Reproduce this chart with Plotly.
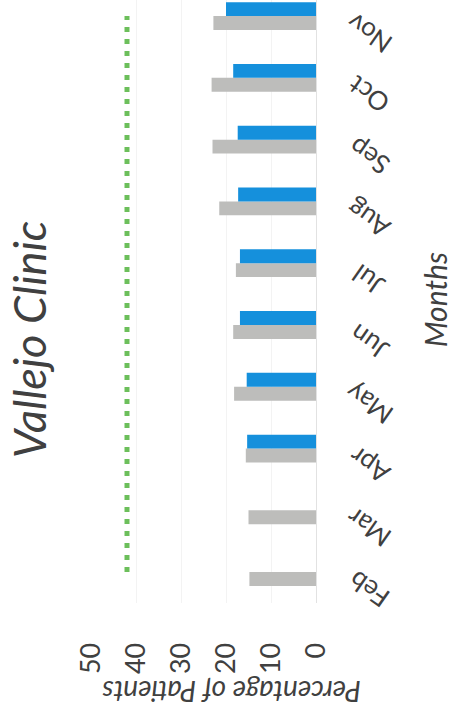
import plotly.graph_objects as go

# Monthly patient percentages, Vallejo Clinic
months = ["Feb", "Mar", "Apr", "May", "Jun", "Jul", "Aug", "Sep", "Oct", "Nov"]
prior_pct = [14.8, 15.0, 15.6, 18.2, 18.4, 17.8, 21.5, 23.0, 23.2, 22.8]
current_pct = [None, None, 15.3, 15.4, 16.9, 16.9, 17.3, 17.4, 18.4, 20.0]
target_pct = [42, 42, 42, 42, 42, 42, 42, 42, 42, 42]
pct_ticks = [0, 10, 20, 30, 40, 50]

FONT = "Lato"
TEXT = "#404040"

fig = go.Figure()
fig.add_trace(go.Bar(y=months, x=prior_pct, orientation="h",
                     marker=dict(color="#bdbdbb", line=dict(width=0)),
                     showlegend=False))
fig.add_trace(go.Bar(y=months, x=current_pct, orientation="h",
                     marker=dict(color="#1590dc", line=dict(width=0)),
                     showlegend=False))
fig.add_trace(go.Scatter(y=months, x=target_pct, mode="lines",
                         line=dict(color="#6cbf5b", width=5, dash="5px,7px"),
                         showlegend=False))

fig.update_layout(
    width=457, height=719,
    margin=dict(l=91, r=141, t=0, b=116),
    paper_bgcolor="white", plot_bgcolor="white",
    barmode="group", bargap=0.55, bargroupgap=0,
    font=dict(family=FONT, color=TEXT),
)
fig.update_xaxes(
    range=[50, 0], tickvals=pct_ticks, tickangle=-90, automargin=False,
    tickfont=dict(size=27, color=TEXT, family=FONT),
    showgrid=True, gridcolor="#f3f3f3", gridwidth=1,
    zeroline=False, showline=False,
    ticks="outside", ticklen=28, tickcolor="rgba(0,0,0,0)",
)
fig.update_yaxes(
    type="category", categoryorder="array", categoryarray=months,
    range=[-0.5, 9.26], side="right", automargin=False,
    showticklabels=False,
    showgrid=False, zeroline=False,
    showline=True, linecolor="#e2e2e2", linewidth=1,
)

# Month labels beside the category axis, upside down and slanted
for m in months:
    fig.add_annotation(text=m, xref="paper", yref="y", x=1.233, y=m,
                       yshift=-17, textangle=-145, showarrow=False,
                       xanchor="center", yanchor="middle",
                       font=dict(size=26, color=TEXT, family=FONT))

fig.add_annotation(text="<i>Vallejo Clinic</i>", xref="paper", yref="paper",
                   x=-0.2756, y=0.4375, textangle=-90, showarrow=False,
                   xanchor="center", yanchor="middle",
                   font=dict(size=45, color=TEXT, family=FONT))
fig.add_annotation(text="<i>Months</i>", xref="paper", yref="paper",
                   x=1.529, y=0.502, textangle=-90, showarrow=False,
                   xanchor="center", yanchor="middle",
                   font=dict(size=30, color=TEXT, family=FONT))
fig.add_annotation(text="<i>Percentage of Patients</i>", xref="paper", yref="paper",
                   x=0.622, y=-0.148, textangle=180, showarrow=False,
                   xanchor="center", yanchor="middle",
                   font=dict(size=28, color=TEXT, family=FONT))

fig.write_html("out.html")
